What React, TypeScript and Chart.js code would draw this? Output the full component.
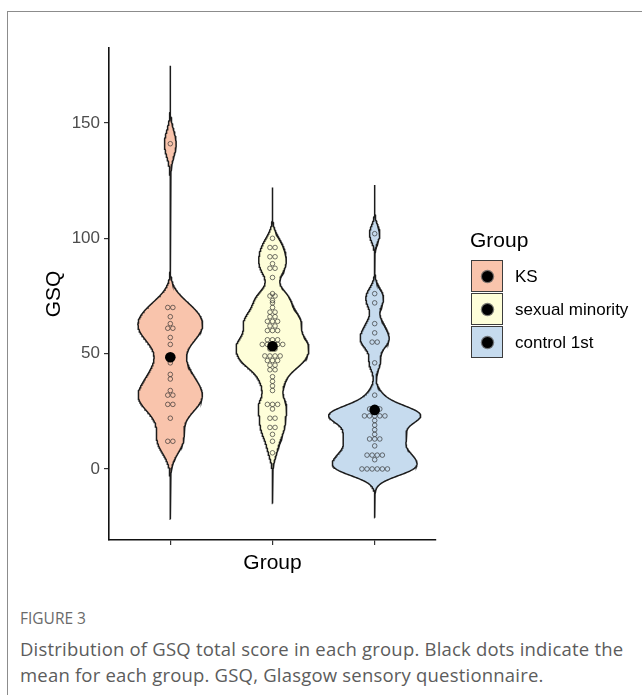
import React, { useEffect, useRef } from 'react';
import { Chart, registerables } from 'chart.js';

Chart.register(...registerables);

// ---------- data ----------
const groupNames = ['KS', 'sexual minority', 'control 1st'];
const groupColors = ['#F9C4AC', '#FEFED9', '#C6DBEE'];

const ksScores = [141, 70, 70, 66, 63, 61, 61, 57, 54, 46, 41, 39, 34, 32, 32, 28, 28, 22, 12, 12];
const sexualMinorityScores = [
  100, 96, 96, 92, 92, 89, 87, 87, 83, 76, 75, 75, 73, 72, 70, 68, 68, 66, 66, 64, 64, 64,
  62, 62, 60, 60, 60, 56, 56, 56, 54, 54, 54, 54, 54, 52, 52, 49, 49, 49, 49, 47, 47, 47,
  45, 45, 43, 43, 40, 38, 36, 34, 28, 28, 28, 26, 22, 22, 18, 18, 15, 12, 7,
];
const controlScores = [
  102, 76, 72, 63, 59, 55, 55, 46, 32, 26, 26, 26, 23, 23, 23, 23, 23, 21, 19, 17, 15, 13, 13, 13,
  10, 6, 6, 6, 6, 4, 0, 0, 0, 0, 0, 0,
];
const groupMeans = [48.4, 53.2, 25.6];

const yTickValues = [0, 50, 100, 150];
const xTickValues = [1, 2, 3];
const yMin = -30.8;
const yMax = 182.5;
const xMin = 0.4;
const xMax = 3.6;

const yAxisTitle = 'GSQ';
const xAxisTitle = 'Group';
const legendTitle = 'Group';
const figureLabel = 'FIGURE 3';
const captionLines = [
  'Distribution of GSQ total score in each group. Black dots indicate the',
  'mean for each group. GSQ, Glasgow sensory questionnaire.',
];

// ---------- helpers (kernel density like ggplot2 geom_violin, trim = FALSE, adjust = 0.5) ----------
const BW_ADJUST = 0.5;

function quantile7(sorted: number[], p: number) {
  const h = (sorted.length - 1) * p;
  const lo = Math.floor(h);
  const hi = Math.ceil(h);
  return sorted[lo] + (h - lo) * (sorted[hi] - sorted[lo]);
}

function bwNrd0(x: number[]) {
  const n = x.length;
  const mean = x.reduce((a, b) => a + b, 0) / n;
  const sd = Math.sqrt(x.reduce((a, b) => a + (b - mean) * (b - mean), 0) / (n - 1));
  const s = [...x].sort((a, b) => a - b);
  const iqr = quantile7(s, 0.75) - quantile7(s, 0.25);
  let lo = Math.min(sd, iqr / 1.34);
  if (!lo) lo = sd || Math.abs(s[0]) || 1;
  return 0.9 * lo * Math.pow(n, -0.2);
}

function density(values: number[]) {
  const bwRange = bwNrd0(values);
  const bw = bwRange * BW_ADJUST;
  const mn = Math.min(...values) - 3 * bwRange;
  const mx = Math.max(...values) + 3 * bwRange;
  const N = 512;
  const ys: number[] = [];
  const ds: number[] = [];
  const n = values.length;
  for (let i = 0; i < N; i++) {
    const y = mn + ((mx - mn) * i) / (N - 1);
    let s = 0;
    for (const v of values) {
      const z = (y - v) / bw;
      s += Math.exp(-0.5 * z * z);
    }
    ys.push(y);
    ds.push(s / (n * bw * Math.sqrt(2 * Math.PI)));
  }
  return { ys, ds };
}

// dotplot-like stacking: equal values are spread sideways around the group centre
function dotPositions(values: number[], center: number, step: number) {
  const counts = new Map<number, number>();
  values.forEach((v) => counts.set(v, (counts.get(v) || 0) + 1));
  const pts: { x: number; y: number }[] = [];
  counts.forEach((c, v) => {
    for (let i = 0; i < c; i++) pts.push({ x: center + (i - (c - 1) / 2) * step, y: v });
  });
  return pts;
}

const violinFillPlugin = {
  id: 'violinFill',
  beforeDatasetsDraw(chart: any) {
    const { ctx, chartArea } = chart;
    ctx.save();
    ctx.beginPath();
    ctx.rect(chartArea.left, chartArea.top, chartArea.right - chartArea.left, chartArea.bottom - chartArea.top);
    ctx.clip();
    chart.data.datasets.forEach((ds: any, i: number) => {
      if (!ds.violinFill) return;
      const pts = chart.getDatasetMeta(i).data;
      ctx.beginPath();
      pts.forEach((p: any, k: number) => (k ? ctx.lineTo(p.x, p.y) : ctx.moveTo(p.x, p.y)));
      ctx.closePath();
      ctx.fillStyle = ds.violinFill;
      ctx.fill();
    });
    ctx.restore();
  },
};

const AX_FONT = '"Liberation Sans", Arial, sans-serif';
const CAP_FONT = '"Open Sans", "Noto Sans", sans-serif';

export default function App() {
  const canvasRef = useRef<HTMLCanvasElement | null>(null);

  useEffect(() => {
    if (!canvasRef.current) return;
    const series = [ksScores, sexualMinorityScores, controlScores];
    const dens = series.map(density);
    const globalMax = Math.max(...dens.map((d) => Math.max(...d.ds)));

    const violinSets = dens.map((d, g) => {
      const c = g + 1;
      const left = d.ys.map((y, i) => ({ x: c - 0.45 * (d.ds[i] / globalMax), y }));
      const right = d.ys.map((y, i) => ({ x: c + 0.45 * (d.ds[i] / globalMax), y })).reverse();
      const pts = [...left, ...right, left[0]];
      return {
        type: 'scatter' as const,
        label: groupNames[g] + ' violin',
        data: pts,
        showLine: true,
        pointRadius: 0,
        borderColor: '#1c1c1c',
        borderWidth: 1.5,
        tension: 0,
        fill: false,
        violinFill: groupColors[g],
        order: 3,
      };
    });

    const dotStep = 0.05;
    const dotSets = series.map((vals, g) => ({
      type: 'scatter' as const,
      label: groupNames[g] + ' dots',
      data: dotPositions(vals, g + 1, dotStep),
      pointRadius: 2.3,
      pointBorderWidth: 1,
      pointBorderColor: 'rgba(45,45,45,0.65)',
      pointBackgroundColor: 'rgba(0,0,0,0)',
      order: 2,
    }));

    const meanSet = {
      type: 'scatter' as const,
      label: 'mean',
      data: groupMeans.map((m, g) => ({ x: g + 1, y: m })),
      pointRadius: 5.3,
      pointBorderWidth: 0,
      pointBackgroundColor: '#000',
      pointBorderColor: '#000',
      order: 1,
    };

    const chart = new Chart(canvasRef.current, {
      type: 'scatter',
      data: { datasets: [...violinSets, ...dotSets, meanSet] as any },
      plugins: [violinFillPlugin],
      options: {
        animation: false,
        responsive: false,
        devicePixelRatio: 1,
        layout: { padding: { left: 0, top: 48, right: 206, bottom: 0 } },
        plugins: { legend: { display: false }, tooltip: { enabled: false } },
        scales: {
          x: {
            type: 'linear',
            min: xMin,
            max: xMax,
            afterBuildTicks: (axis: any) => {
              axis.ticks = xTickValues.map((v) => ({ value: v }));
            },
            afterFit: (axis: any) => {
              axis.height = 60;
            },
            ticks: { callback: () => '', autoSkip: false },
            grid: { drawOnChartArea: false, drawTicks: true, tickLength: 5, color: '#333', lineWidth: 1.2 },
            border: { display: true, color: '#111', width: 1.6 },
            title: {
              display: true,
              text: xAxisTitle,
              color: '#000',
              font: { family: AX_FONT, size: 21 },
              padding: { top: 0, bottom: 24 },
            },
          },
          y: {
            type: 'linear',
            min: yMin,
            max: yMax,
            afterBuildTicks: (axis: any) => {
              axis.ticks = yTickValues.map((v) => ({ value: v }));
            },
            afterFit: (axis: any) => {
              axis.width = 109;
            },
            ticks: { color: '#4d4d4d', font: { family: AX_FONT, size: 17 }, padding: 4, autoSkip: false },
            grid: { drawOnChartArea: false, drawTicks: true, tickLength: 5, color: '#333', lineWidth: 1.2 },
            border: { display: true, color: '#111', width: 1.6 },
            title: {
              display: true,
              text: yAxisTitle,
              color: '#000',
              font: { family: AX_FONT, size: 21 },
              padding: { top: 42, bottom: 0 },
            },
          },
        },
      } as any,
    });
    return () => chart.destroy();
  }, []);

  return (
    <div
      style={{
        position: 'absolute',
        left: 0,
        top: 0,
        width: 642,
        height: 695,
        overflow: 'hidden',
        background: '#fff',
      }}
    >
      <div
        style={{
          position: 'absolute',
          left: 7,
          top: 11,
          width: 720,
          height: 800,
          border: '1px solid #8c8c8c',
        }}
      />
      <canvas
        ref={canvasRef}
        width={642}
        height={600}
        style={{ position: 'absolute', left: 0, top: 0, width: 642, height: 600 }}
      />
      <div
        style={{
          position: 'absolute',
          left: 470,
          top: 227,
          fontFamily: AX_FONT,
          fontSize: 21,
          lineHeight: '26px',
          color: '#000',
        }}
      >
        {legendTitle}
      </div>
      {groupNames.map((name, g) => (
        <React.Fragment key={name}>
          <div
            style={{
              position: 'absolute',
              left: 471,
              top: 260 + g * 33,
              width: 32,
              height: 32,
              boxSizing: 'border-box',
              border: '1.5px solid #3c3c3c',
              background: groupColors[g],
            }}
          >
            <div
              style={{
                position: 'absolute',
                left: '50%',
                top: '50%',
                width: 11,
                height: 11,
                marginLeft: -5.5,
                marginTop: -5.5,
                borderRadius: '50%',
                background: '#000',
                boxShadow: '0 0 0 1.2px rgba(90,90,90,0.8)',
              }}
            />
          </div>
          <div
            style={{
              position: 'absolute',
              left: 515,
              top: 261 + g * 33,
              height: 32,
              lineHeight: '32px',
              fontFamily: AX_FONT,
              fontSize: 17,
              color: '#000',
              whiteSpace: 'nowrap',
            }}
          >
            {name}
          </div>
        </React.Fragment>
      ))}
      <div
        style={{
          position: 'absolute',
          left: 20,
          top: 607,
          fontFamily: CAP_FONT,
          fontSize: 15.5,
          lineHeight: '22px',
          color: '#6a6a6a',
          whiteSpace: 'nowrap',
        }}
      >
        {figureLabel}
      </div>
      <div
        style={{
          position: 'absolute',
          left: 20,
          top: 636,
          fontFamily: CAP_FONT,
          fontSize: 18.5,
          letterSpacing: 0.2,
          lineHeight: '26px',
          color: '#5c5c5c',
          whiteSpace: 'nowrap',
        }}
      >
        {captionLines.map((l) => (
          <div key={l}>{l}</div>
        ))}
      </div>
    </div>
  );
}
